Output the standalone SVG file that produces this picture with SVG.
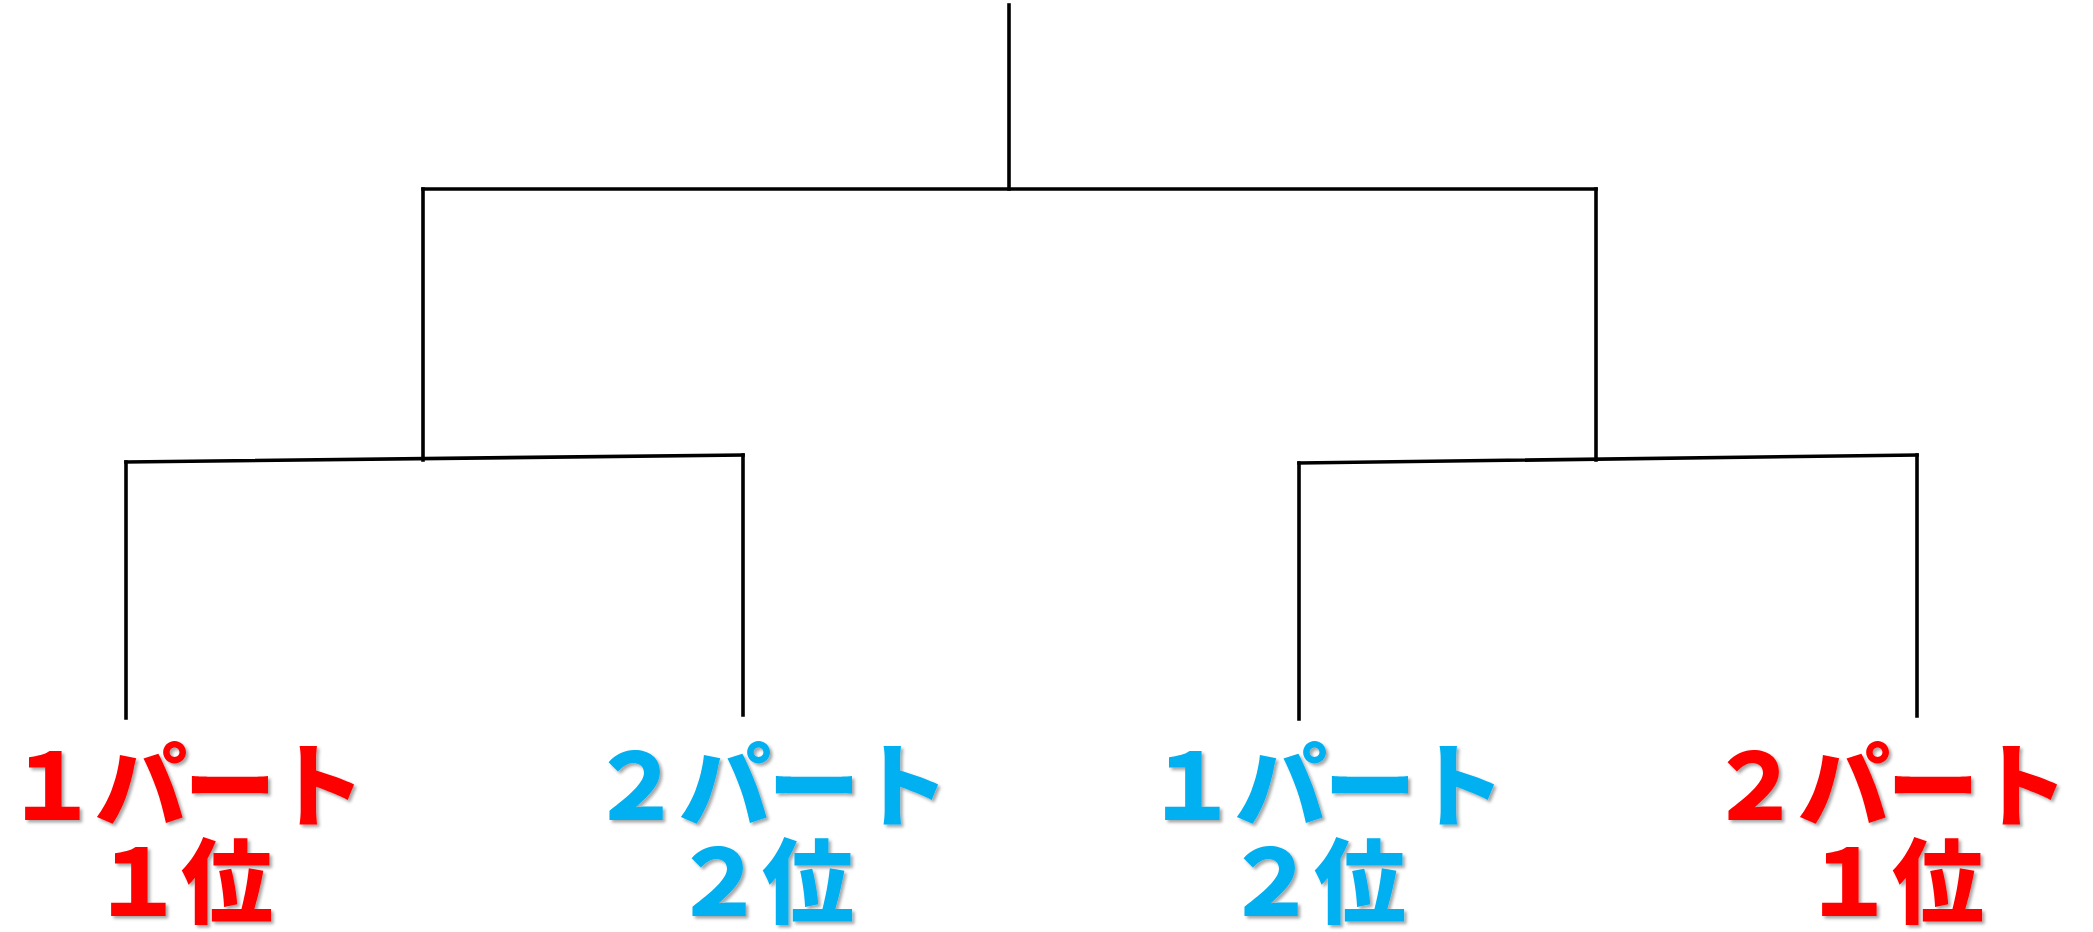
<svg xmlns="http://www.w3.org/2000/svg" width="2093" height="932" viewBox="0 0 2093 932">
<defs>
<filter id="sh" x="-10%" y="-10%" width="130%" height="130%">
<feDropShadow dx="2.5" dy="2.5" stdDeviation="1.5" flood-color="#000" flood-opacity="0.35"/>
</filter>
</defs>
<style>
.ln{stroke:#000;stroke-width:3.6;fill:none;stroke-linecap:square}
.lb{font-family:"Noto Sans CJK JP","Noto Sans CJK SC",sans-serif;font-weight:900;font-size:92px;text-anchor:middle;letter-spacing:-3px;filter:url(#sh)}
.red{fill:#FF0000}
.blue{fill:#00B0F0}
</style>
<rect width="2093" height="932" fill="#fff"/>
<g id="connectors">
<line class="ln" x1="1009" y1="5" x2="1009" y2="189"/>
<line class="ln" x1="423" y1="189" x2="1596" y2="189"/>
<line class="ln" x1="423" y1="189" x2="423" y2="460"/>
<line class="ln" x1="1596" y1="189" x2="1596" y2="460"/>
<line class="ln" x1="126" y1="462" x2="743" y2="455"/>
<line class="ln" x1="1299" y1="463" x2="1917" y2="455"/>
<line class="ln" x1="126" y1="462" x2="126" y2="718"/>
<line class="ln" x1="743" y1="455" x2="743" y2="715"/>
<line class="ln" x1="1299" y1="463" x2="1299" y2="719"/>
<line class="ln" x1="1917" y1="455" x2="1917" y2="716"/>
</g>
<g id="leaf1">
<text class="lb red" x="184" y="820">１パート</text>
<text class="lb red" x="181" y="916">１位</text>
</g>
<g id="leaf2">
<text class="lb blue" x="768" y="820">２パート</text>
<text class="lb blue" x="762" y="916">２位</text>
</g>
<g id="leaf3">
<text class="lb blue" x="1324" y="820">１パート</text>
<text class="lb blue" x="1314" y="916">２位</text>
</g>
<g id="leaf4">
<text class="lb red" x="1887" y="820">２パート</text>
<text class="lb red" x="1892" y="916">１位</text>
</g>
</svg>
